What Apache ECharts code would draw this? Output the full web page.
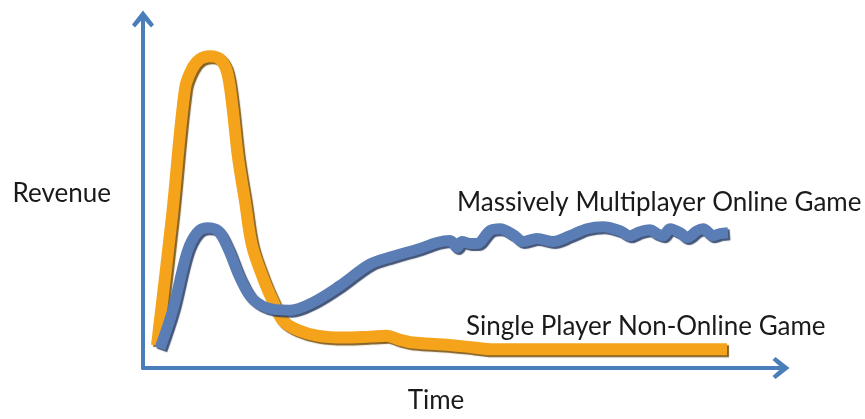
<!DOCTYPE html>
<html>
<head>
<meta charset="utf-8">
<script src="https://cdn.jsdelivr.net/npm/echarts@6/dist/echarts.min.js"></script>
<style>
html,body{margin:0;padding:0;background:#fff;}
#chart{width:865px;height:419px;}
</style>
</head>
<body>
<div id="chart"></div>
<script>
// Arbitrary units: time (x) and revenue (y)
const singlePlayerTime = [14,29,42,49,57,67,77,84,89,95,102,109,120,130,140,154,174,200,227,244,256,270,300,330,350,400,500,584];
const singlePlayerRevenue = [23,155,285,305,315,318,315,302,270,215,170,125,92,68,48,39,33,31,32,33,29,26,24,21,19,19,19,19];
const mmoTime = [17,30,44,54,64,75,85,97,110,130,147,170,197,227,250,277,294,307,314,319,327,334,347,357,370,380,394,410,427,444,460,477,487,497,507,514,520,527,537,544,554,560,570,577,585];
const mmoRevenue = [20,60,118,138,143,140,122,92,70,60,59,67,84,106,114,122,128,130,123,129,127,127,140,142,136,129,132,129,135,142,144,140,135,139,141,137,135,142,138,133,140,142,135,137,138];
const seriesNames = ['Single Player Non-Online Game', 'Massively Multiplayer Online Game'];
const axisNames = ['Time', 'Revenue'];

const zip = (a, b) => a.map((v, i) => [v, b[i]]);
const chevron = 'path://M11 0 L22 14 L19 17 L11 8 L3 17 L0 14 Z';
const axisColor = '#4A7EBB';
const font = 'Lato, "Open Sans", sans-serif';

const chart = echarts.init(document.getElementById('chart'), null, {renderer: 'canvas'});
chart.setOption({
  animation: false,
  backgroundColor: '#ffffff',
  grid: {left: 143, right: 84, top: 19, bottom: 44},
  xAxis: {
    type: 'value', min: 0, max: 638,
    name: axisNames[0], nameLocation: 'middle', nameGap: 20,
    nameTextStyle: {fontFamily: font, fontSize: 26, color: '#1a1a1a', padding: [0, 52, 0, 0]},
    axisLine: {show: true, symbol: ['none', chevron], symbolSize: [22, 18], lineStyle: {color: axisColor, width: 4}},
    axisTick: {show: false}, axisLabel: {show: false}, splitLine: {show: false}
  },
  yAxis: {
    type: 'value', min: 0, max: 356,
    name: axisNames[1], nameLocation: 'middle', nameGap: 32, nameRotate: 0,
    nameTextStyle: {fontFamily: font, fontSize: 26, color: '#1a1a1a'},
    axisLine: {show: true, symbol: ['none', chevron], symbolSize: [22, 18], lineStyle: {color: axisColor, width: 4}},
    axisTick: {show: false}, axisLabel: {show: false}, splitLine: {show: false}
  },
  graphic: [
    {type: 'text', x: 457, y: 203, style: {text: seriesNames[1], font: '26px ' + font, fill: '#1a1a1a', verticalAlign: 'middle'}},
    {type: 'text', x: 466, y: 327, style: {text: seriesNames[0], font: '26px ' + font, fill: '#1a1a1a', verticalAlign: 'middle'}}
  ],
  series: [
    {
      name: seriesNames[0], type: 'line', data: zip(singlePlayerTime, singlePlayerRevenue),
      smooth: 0.35, showSymbol: false, z: 2,
      lineStyle: {width: 12, color: '#F5A31A', shadowColor: 'rgba(110,70,0,0.85)', shadowBlur: 1, shadowOffsetX: 2, shadowOffsetY: 2}
    },
    {
      name: seriesNames[1], type: 'line', data: zip(mmoTime, mmoRevenue),
      smooth: 0.35, showSymbol: false, z: 3,
      lineStyle: {width: 11, color: '#5B7DB5', shadowColor: 'rgba(35,55,95,0.85)', shadowBlur: 1, shadowOffsetX: 2, shadowOffsetY: 2}
    }
  ]
});
</script>
</body>
</html>
